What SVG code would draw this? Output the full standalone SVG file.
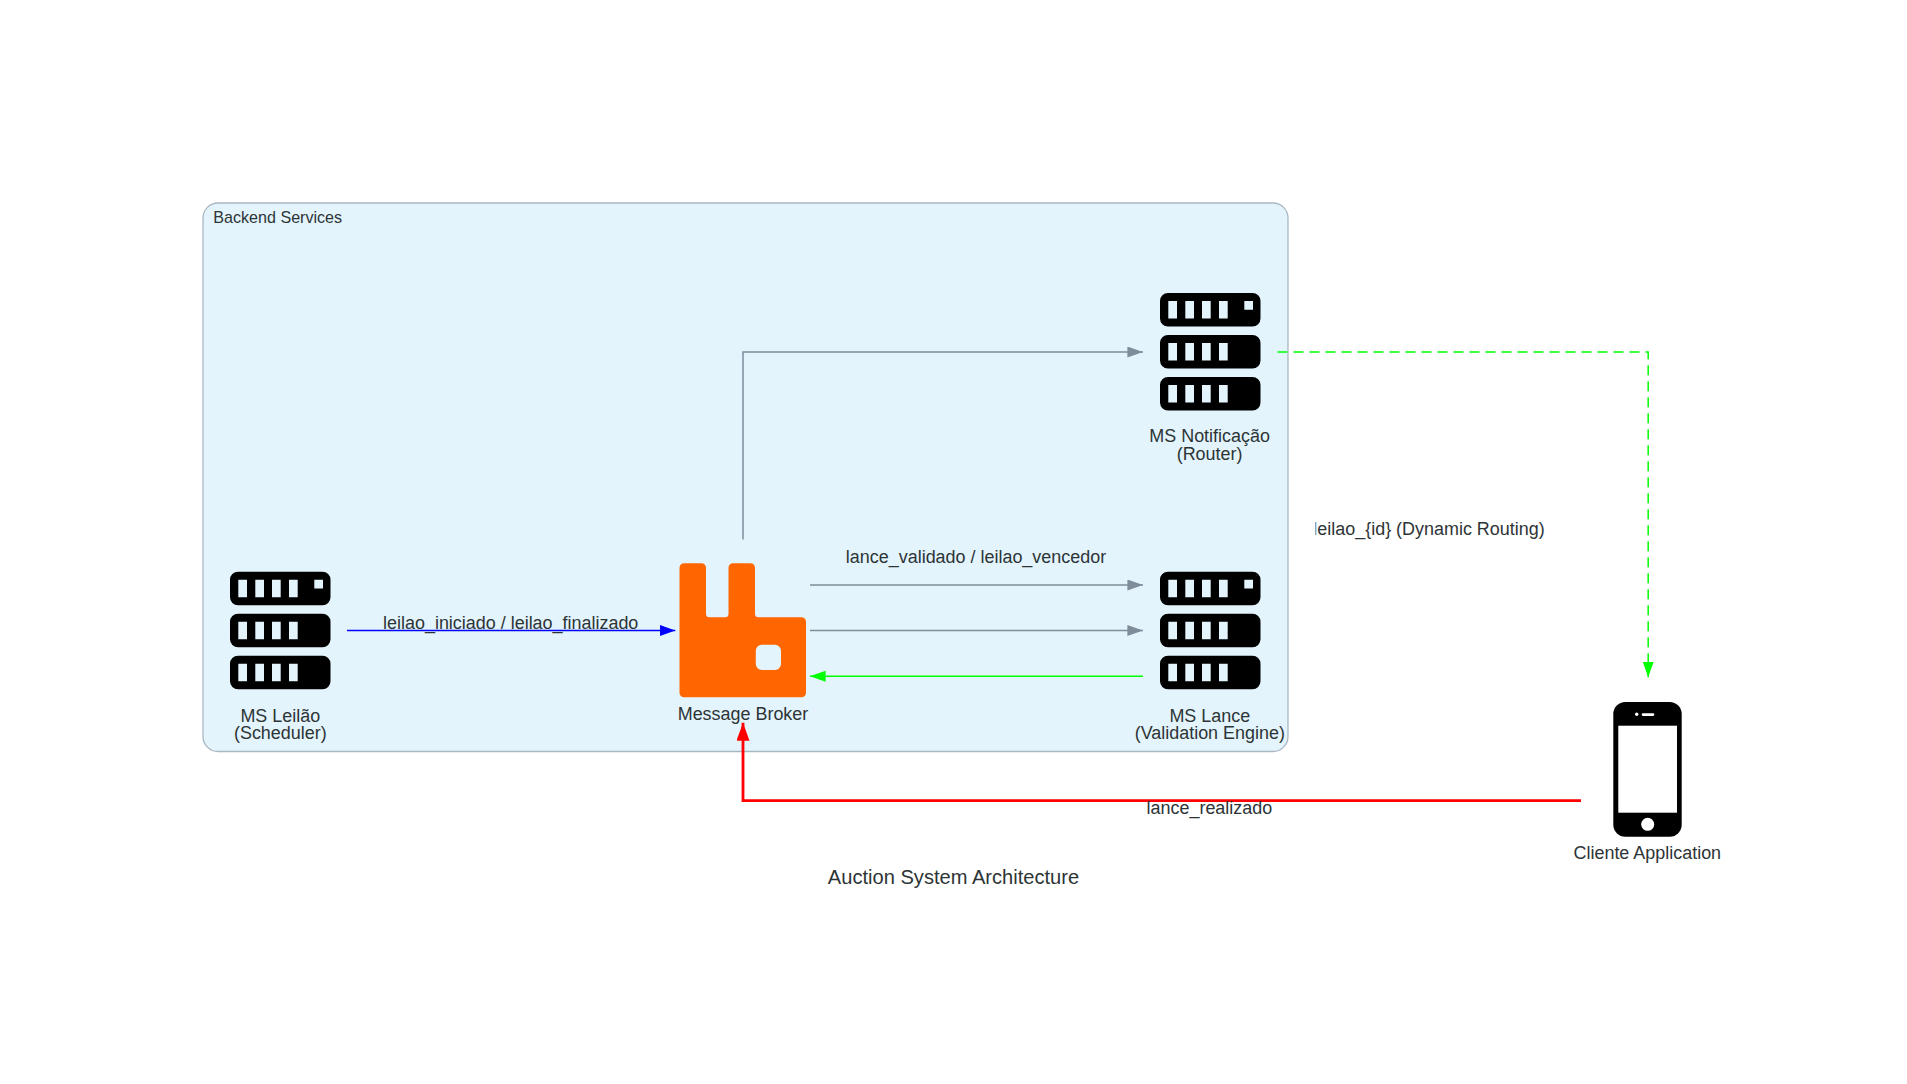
<svg xmlns="http://www.w3.org/2000/svg" width="1907" height="1084" viewBox="0 0 1907 1084">
<style>
text{font-family:"Liberation Sans",Arial,sans-serif;fill:#2d3436;font-size:17.95px;text-anchor:middle}
.c{fill:none;stroke-linejoin:miter}
.g{stroke:#7f8c99;stroke-width:1.5}
</style>
<defs>
<marker id="mg" markerUnits="userSpaceOnUse" markerWidth="16" markerHeight="12" refX="15.6" refY="5.5" orient="auto"><path d="M0 0L15.6 5.5L0 11z" fill="#7f8c99"/></marker>
<marker id="mb" markerUnits="userSpaceOnUse" markerWidth="16" markerHeight="12" refX="15.6" refY="5.5" orient="auto"><path d="M0 0L15.6 5.5L0 11z" fill="#0000ff"/></marker>
<marker id="ml" markerUnits="userSpaceOnUse" markerWidth="16" markerHeight="12" refX="15.6" refY="5.5" orient="auto"><path d="M0 0L15.6 5.5L0 11z" fill="#00ff00"/></marker>
<marker id="mr" markerUnits="userSpaceOnUse" markerWidth="19" markerHeight="14" refX="18" refY="6.500" orient="auto"><path d="M0 0L18 6.500L0 13z" fill="#ff0000"/></marker>
<clipPath id="lc"><rect x="1315.500" y="510" width="240" height="40"/></clipPath>
<path id="srv" fill="#000" fill-rule="evenodd" d="M8 0H92.500a8 8 0 0 1 8 8V25.600a8 8 0 0 1-8 8H8a8 8 0 0 1-8-8V8a8 8 0 0 1 8-8z
M8.300 8V25.600H17V8zM25.300 8V25.600H34V8zM42 8V25.600H50.700V8zM59 8V25.600H67.700V8zM84.300 8V16.800H93V8z
M8 42H92.500a8 8 0 0 1 8 8V67.600a8 8 0 0 1-8 8H8a8 8 0 0 1-8-8V50a8 8 0 0 1 8-8z
M8.300 50V67.600H17V50zM25.300 50V67.600H34V50zM42 50V67.600H50.700V50zM59 50V67.600H67.700V50z
M8 84H92.500a8 8 0 0 1 8 8V109.600a8 8 0 0 1-8 8H8a8 8 0 0 1-8-8V92a8 8 0 0 1 8-8z
M8.300 92V109.600H17V92zM25.300 92V109.600H34V92zM42 92V109.600H50.700V92zM59 92V109.600H67.700V92z"/>
</defs>
<rect width="1907" height="1084" fill="#fff"/>
<g id="cluster-backend">
<rect x="203" y="203" width="1085" height="548.500" rx="15" fill="#e3f4fd" stroke="#aab7c2" stroke-width="1.300"/>
<text x="213.300" y="223.300" style="font-size:16.100px;text-anchor:start">Backend Services</text>
</g>
<g id="connectors">
<path class="c" d="M347 630.500H675.300" stroke="#0000ff" stroke-width="1.500" marker-end="url(#mb)"/>
<path class="c g" d="M810 585H1143" marker-end="url(#mg)"/>
<path class="c g" d="M810 630.500H1143" marker-end="url(#mg)"/>
<path class="c" d="M1143 676.300H810" stroke="#00ff00" stroke-width="1.500" marker-end="url(#ml)"/>
<path class="c g" d="M743 539.500V352H1143" marker-end="url(#mg)"/>
<path class="c" d="M1277.500 352H1648.200V677.300" stroke="#00ff00" stroke-width="1.500" stroke-dasharray="10 6" marker-end="url(#ml)"/>
<path class="c" d="M1581 800.700H743V722.700" stroke="#ff0000" stroke-width="2.800" marker-end="url(#mr)"/>
<text x="510.700" y="629.200">leilao_iniciado / leilao_finalizado</text>
<text x="976" y="563.300">lance_validado / leilao_vencedor</text>
<text x="1209.400" y="814">lance_realizado</text>
<text x="1429" y="535.400" clip-path="url(#lc)">leilao_{id} (Dynamic Routing)</text>
</g>
<g id="node-ms-leilao">
<use href="#srv" x="230" y="571.700"/>
<text x="280.300" y="721.800">MS Leilão</text>
<text x="280.300" y="739">(Scheduler)</text>
</g>
<g id="node-broker">
<path fill="#ff6600" fill-rule="evenodd" d="M684 563.300H701.500a4.500 4.500 0 0 1 4.500 4.500V613.800a3.500 3.500 0 0 0 3.500 3.500H725a3.500 3.500 0 0 0 3.500-3.500V567.800a4.500 4.500 0 0 1 4.500-4.500H750.500a4.500 4.500 0 0 1 4.500 4.500V613.800a3.500 3.500 0 0 0 3.500 3.500H801.500a4.500 4.500 0 0 1 4.500 4.500V692.800a4.500 4.500 0 0 1-4.500 4.500H684a4.500 4.500 0 0 1-4.500-4.500V567.800a4.500 4.500 0 0 1 4.500-4.500z
M761.800 644.700H775a6 6 0 0 1 6 6V664a6 6 0 0 1-6 6H761.800a6 6 0 0 1-6-6V650.700a6 6 0 0 1 6-6z"/>
<text x="743" y="720">Message Broker</text>
</g>
<g id="node-ms-lance">
<use href="#srv" x="1160" y="571.700"/>
<text x="1209.800" y="721.500">MS Lance</text>
<text x="1209.800" y="739">(Validation Engine)</text>
</g>
<g id="node-ms-notificacao">
<use href="#srv" x="1160" y="293"/>
<text x="1209.600" y="442.300">MS Notificação</text>
<text x="1209.600" y="460">(Router)</text>
</g>
<g id="node-cliente">
<rect x="1613.300" y="702" width="68.400" height="134.700" rx="12" fill="#000"/>
<rect x="1618.300" y="725.700" width="58.700" height="87" fill="#fff"/>
<circle cx="1636.700" cy="714.300" r="1.700" fill="#fff"/>
<rect x="1641.700" y="713.300" width="12.600" height="2.600" rx="1.300" fill="#fff"/>
<circle cx="1647.700" cy="824.300" r="6.500" fill="#fff"/>
<text x="1647.300" y="859.300">Cliente Application</text>
</g>
<text id="title" x="953.500" y="884" style="font-size:20.100px">Auction System Architecture</text>
</svg>
